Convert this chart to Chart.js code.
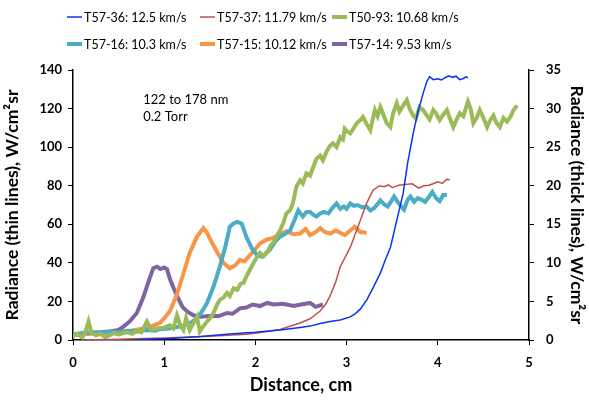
<!DOCTYPE html>
<html>
<head>
<meta charset="utf-8">
<script src="https://cdn.jsdelivr.net/npm/chart.js@4.4.1/dist/chart.umd.min.js"></script>
<style>
  html, body { margin: 0; padding: 0; background: #fff; }
  #wrap { width: 589px; height: 400px; }
</style>
</head>
<body>
<div id="wrap"><canvas id="mycanvas" width="589" height="400"></canvas></div>
<script>
// series labels (legend order)
var labels = ['T57-36: 12.5 km/s', 'T57-37: 11.79 km/s', 'T50-93: 10.68 km/s',
              'T57-16: 10.3 km/s', 'T57-15: 10.12 km/s', 'T57-14: 9.53 km/s'];

// thin lines, left axis [distance cm, radiance]
var t5736 = [[0.7,0.3],[1.06,0.8],[1.4,1.8],[1.75,3.2],[2.0,4.0],[2.27,5.2],[2.49,6.5],[2.6,7.2],[2.71,8.6],[2.82,9.6],
  [2.93,10.4],[3.04,12.0],[3.1,13.8],[3.15,16.0],[3.22,20.7],[3.29,27.0],[3.37,34.7],[3.42,41.0],[3.48,48.0],[3.55,62.0],
  [3.62,76.0],[3.67,92.0],[3.73,107.0],[3.78,118.0],[3.84,128.0],[3.88,134.0],[3.91,136.5],[3.95,135.0],[4.0,135.5],
  [4.04,134.8],[4.08,136.0],[4.12,137.0],[4.16,136.2],[4.2,136.8],[4.24,135.0],[4.28,135.6],[4.31,136.4],[4.33,136.0]];
var t5737 = [[0.1,0.0],[0.5,0.4],[1.0,1.0],[1.5,2.0],[1.9,3.0],[2.0,3.5],[2.27,5.5],[2.49,8.8],[2.6,11.0],[2.71,15.0],
  [2.77,18.5],[2.82,23.0],[2.88,30.0],[2.93,38.0],[3.04,48.0],[3.15,62.0],[3.22,71.0],[3.29,77.7],[3.36,80.0],[3.41,79.5],
  [3.46,80.4],[3.5,79.0],[3.57,80.3],[3.64,80.6],[3.72,81.0],[3.79,78.8],[3.85,80.0],[3.9,80.2],[3.95,81.0],[4.0,82.0],
  [4.05,81.2],[4.1,83.4],[4.13,83.0]];

// thick lines, right axis
var t5093 = [[0,0.5],[0.05,0.8],[0.1,0.3],[0.14,1.2],[0.17,2.4],[0.2,1.0],[0.25,0.6],[0.3,0.8],[0.35,0.4],[0.4,0.6],
  [0.45,0.9],[0.5,0.7],[0.55,0.9],[0.6,1.0],[0.65,0.8],[0.7,1.2],[0.75,1.0],[0.81,2.4],[0.86,1.3],[0.92,1.5],[1.0,1.6],
  [1.06,1.9],[1.1,1.5],[1.14,3.2],[1.18,1.8],[1.21,1.3],[1.24,2.8],[1.28,1.3],[1.32,2.2],[1.36,3.0],[1.39,1.1],[1.43,1.8],
  [1.47,2.4],[1.5,2.8],[1.54,3.5],[1.58,4.6],[1.61,5.2],[1.65,5.5],[1.69,6.1],[1.72,5.7],[1.76,6.7],[1.8,6.5],[1.84,7.3],
  [1.87,7.4],[1.9,8.2],[1.94,9.1],[1.97,9.8],[2.01,10.6],[2.05,11.3],[2.09,10.9],[2.13,11.4],[2.17,12.3],[2.2,12.7],
  [2.24,13.6],[2.27,14.2],[2.31,15.3],[2.34,16.4],[2.38,16.8],[2.41,17.7],[2.45,19.9],[2.49,20.7],[2.52,20.3],[2.56,21.6],
  [2.6,21.3],[2.63,22.3],[2.67,23.5],[2.71,23.9],[2.74,23.3],[2.78,24.4],[2.82,25.2],[2.85,25.5],[2.89,25.0],[2.93,26.3],
  [2.96,26.0],[2.98,27.4],[3.01,27.0],[3.04,26.8],[3.08,27.5],[3.11,28.1],[3.15,28.5],[3.18,28.9],[3.22,28.0],[3.26,27.2],
  [3.29,28.8],[3.31,29.8],[3.34,29.0],[3.37,30.2],[3.41,29.0],[3.44,28.1],[3.48,27.6],[3.51,29.4],[3.55,30.7],[3.58,29.6],
  [3.62,30.4],[3.66,31.1],[3.69,30.0],[3.73,29.1],[3.76,28.7],[3.8,30.2],[3.84,29.8],[3.88,29.1],[3.91,28.6],[3.95,29.8],
  [3.98,29.4],[4.02,28.5],[4.06,29.2],[4.1,29.8],[4.13,28.8],[4.17,27.6],[4.2,28.4],[4.24,29.4],[4.28,29.0],[4.33,30.9],
  [4.36,30.0],[4.39,28.1],[4.43,28.9],[4.46,29.8],[4.5,28.8],[4.54,27.6],[4.57,28.4],[4.61,29.1],[4.64,28.2],[4.68,27.6],
  [4.72,28.8],[4.76,28.3],[4.8,29.0],[4.83,29.8],[4.87,30.4]];
var t5716 = [[0,0.7],[0.1,0.9],[0.2,1.0],[0.3,0.9],[0.4,1.1],[0.5,1.0],[0.6,1.2],[0.7,1.1],[0.8,1.3],[0.9,1.2],[0.95,1.4],
  [1.05,1.5],[1.1,1.6],[1.2,1.8],[1.3,2.3],[1.36,2.8],[1.42,3.8],[1.47,4.8],[1.54,6.9],[1.61,9.5],[1.67,12.1],[1.72,14.7],
  [1.76,15.1],[1.8,15.3],[1.85,15.1],[1.9,13.4],[1.96,11.9],[2.02,11.0],[2.08,10.8],[2.12,11.3],[2.16,11.7],[2.22,12.8],
  [2.27,13.4],[2.32,13.7],[2.38,14.2],[2.43,15.6],[2.47,16.8],[2.52,16.0],[2.56,16.6],[2.6,16.6],[2.64,16.2],[2.67,16.0],
  [2.71,16.4],[2.75,16.6],[2.8,16.4],[2.85,17.2],[2.89,17.7],[2.93,17.0],[2.97,17.3],[3.0,17.0],[3.04,17.7],[3.08,17.4],
  [3.12,17.5],[3.17,17.2],[3.22,17.3],[3.26,16.8],[3.3,17.1],[3.34,17.6],[3.37,18.1],[3.41,17.6],[3.45,17.3],[3.49,18.0],
  [3.52,18.6],[3.56,17.9],[3.6,17.3],[3.63,16.9],[3.67,18.2],[3.7,18.6],[3.74,17.9],[3.78,18.4],[3.82,18.2],[3.86,17.9],
  [3.9,18.5],[3.94,19.2],[3.98,18.4],[4.02,18.0],[4.06,18.8],[4.1,18.8]];
var t5715 = [[0,0.6],[0.1,0.7],[0.2,0.8],[0.3,0.9],[0.4,1.0],[0.5,1.0],[0.59,1.1],[0.68,1.3],[0.77,1.5],[0.86,1.8],
  [0.95,2.2],[1.0,2.8],[1.06,3.7],[1.13,5.6],[1.2,8.2],[1.28,11.3],[1.36,13.4],[1.43,14.5],[1.47,13.9],[1.52,12.7],
  [1.58,11.4],[1.65,10.0],[1.72,9.3],[1.78,9.7],[1.83,10.4],[1.88,10.2],[1.94,11.0],[2.0,11.8],[2.05,12.5],[2.12,13.0],
  [2.19,13.2],[2.26,13.6],[2.34,14.1],[2.42,13.7],[2.49,13.8],[2.55,14.4],[2.6,13.6],[2.66,14.0],[2.71,14.5],[2.76,14.0],
  [2.82,13.8],[2.88,14.2],[2.93,13.9],[2.98,13.6],[3.04,14.2],[3.09,14.7],[3.15,14.0],[3.22,13.9]];
var t5714 = [[0,0.6],[0.1,0.8],[0.2,0.9],[0.3,1.0],[0.4,1.1],[0.5,1.3],[0.55,1.7],[0.62,2.4],[0.7,3.5],[0.77,5.5],
  [0.84,8.0],[0.88,9.3],[0.92,9.5],[0.96,9.2],[1.0,9.4],[1.03,9.2],[1.06,8.0],[1.1,6.8],[1.15,5.5],[1.2,4.3],[1.25,3.7],
  [1.32,3.2],[1.4,3.0],[1.5,3.1],[1.6,3.1],[1.69,3.5],[1.75,3.4],[1.83,4.1],[1.9,4.2],[1.97,4.6],[2.05,4.4],[2.13,4.8],
  [2.2,4.6],[2.3,4.7],[2.42,4.4],[2.5,4.6],[2.6,4.8],[2.66,4.3],[2.74,4.6]];

var series = [t5736, t5737, t5093, t5716, t5715, t5714];
var colors = ['#0a33f5', '#c0504d', '#9bbb59', '#4bacc6', '#f79646', '#8064a2'];
var widths = [1.5, 1.5, 4, 4, 4, 4];
var axisOf = ['yL', 'yL', 'yR', 'yR', 'yR', 'yR'];

var font = "Lato, 'Open Sans', sans-serif";

var datasets = series.map(function(s, i) {
  return {
    label: labels[i],
    data: s.map(function(p) { return {x: p[0], y: p[1]}; }),
    borderColor: colors[i],
    backgroundColor: colors[i],
    borderWidth: widths[i],
    pointRadius: 0,
    tension: 0,
    yAxisID: axisOf[i]
  };
});

// legend drawn by hand: 3 columns x 2 rows like the original
var legendPlugin = {
  id: 'legend2',
  afterDraw: function(chart) {
    var c = chart.ctx;
    var cols = [67, 200, 332], rows = [17, 44];
    c.save();
    c.font = '12.5px ' + font;
    c.textBaseline = 'middle';
    c.fillStyle = '#000';
    chart.data.datasets.forEach(function(ds, i) {
      var x = cols[i % 3], y = rows[Math.floor(i / 3)];
      c.strokeStyle = ds.borderColor;
      c.lineWidth = ds.borderWidth;
      c.beginPath();
      c.moveTo(x, y);
      c.lineTo(x + 15, y);
      c.stroke();
      c.fillText(ds.label, x + 17, y + 1);
    });
    c.restore();
  }
};

var notePlugin = {
  id: 'note',
  afterDraw: function(chart) {
    var c = chart.ctx;
    var x = chart.scales.x.getPixelForValue(0.77);
    var yl = chart.scales.yL;
    c.save();
    c.fillStyle = '#000';
    c.font = '13px ' + font;
    c.textBaseline = 'middle';
    c.fillText('122 to 178 nm', x, yl.getPixelForValue(124.5));
    c.fillText('0.2 Torr', x, yl.getPixelForValue(115.5));
    c.restore();
  }
};

var tickFont = {family: font, size: 13, weight: 'bold'};
var titleFont = {family: font, size: 17.5, weight: 'bold'};

new Chart(document.getElementById('mycanvas'), {
  type: 'line',
  data: {datasets: datasets},
  plugins: [notePlugin, legendPlugin],
  options: {
    responsive: false,
    animation: false,
    layout: {padding: {top: 70, right: 0, bottom: 0, left: 0}},
    plugins: {
      tooltip: {enabled: false},
      legend: {display: false}
    },
    scales: {
      x: {
        type: 'linear', min: 0, max: 5,
        ticks: {stepSize: 1, color: '#000', font: tickFont, padding: 10},
        grid: {drawOnChartArea: false, color: '#000', tickLength: 5},
        border: {color: '#000', width: 1.5},
        title: {display: true, text: 'Distance, cm', color: '#000', font: {family: font, size: 18, weight: 'bold'}, padding: {top: 2}},
        afterFit: function(s) { s.height = 60; }
      },
      yL: {
        position: 'left', min: 0, max: 140,
        ticks: {stepSize: 20, color: '#000', font: tickFont, padding: 6},
        grid: {drawOnChartArea: false, color: '#000', tickLength: 5},
        border: {color: '#000', width: 1.5},
        title: {display: true, text: 'Radiance (thin lines), W/cm²sr', color: '#000', font: titleFont, padding: 2},
        afterFit: function(s) { s.width = 73; }
      },
      yR: {
        position: 'right', min: 0, max: 35,
        ticks: {stepSize: 5, color: '#000', font: tickFont, padding: 12},
        grid: {drawOnChartArea: false, color: '#000', tickLength: 5},
        border: {color: '#000', width: 1.5},
        title: {display: true, text: 'Radiance (thick lines), W/cm²sr', color: '#000', font: titleFont, padding: 2},
        afterFit: function(s) { s.width = 60; }
      }
    }
  }
});
</script>
</body>
</html>
